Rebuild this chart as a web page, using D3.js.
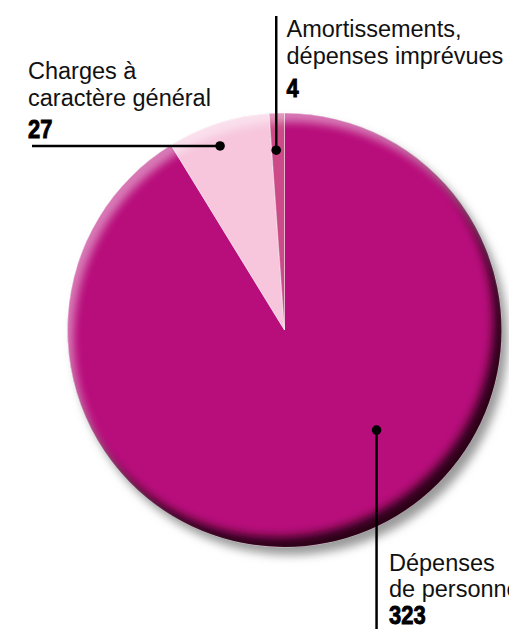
<!DOCTYPE html>
<html>
<head>
<meta charset="utf-8">
<script src="https://cdn.jsdelivr.net/npm/d3@7"></script>
<style>
  html, body { margin: 0; padding: 0; background: #fff; overflow: hidden; }
  svg { display: block; }
  .lbl { font-family: "Liberation Sans", Arial, Helvetica, sans-serif; font-size: 23.5px; fill: #111; }
  .num { font-family: "Liberation Sans", Arial, Helvetica, sans-serif; font-size: 25.5px; font-weight: bold; fill: #000; stroke: #000; stroke-width: 0.9; }
</style>
</head>
<body>
<script>
// ---- data ----
const categories = ["Dépenses de personnel", "Charges à caractère général", "Amortissements, dépenses imprévues"];
const values = [323, 27, 4];
const colors = ["#b80e7b", "#f7c6dd", "#cc4a88"];
const labelLines = [
  ["Dépenses", "de personnel"],
  ["Charges à", "caractère général"],
  ["Amortissements,", "dépenses imprévues"]
];

const W = 509, H = 629;
const cx = 284.5, cy = 330, R = 217;

const svg = d3.select("body").append("svg").attr("width", W).attr("height", H);
const defs = svg.append("defs");
defs.append("clipPath").attr("id", "pieClip")
  .append("circle").attr("cx", cx).attr("cy", cy).attr("r", R);
defs.append("filter").attr("id", "blurS").attr("x", "-20%").attr("y", "-20%").attr("width", "140%").attr("height", "140%")
  .append("feGaussianBlur").attr("stdDeviation", 5);
defs.append("filter").attr("id", "blurD").attr("x", "-20%").attr("y", "-20%").attr("width", "140%").attr("height", "140%")
  .append("feGaussianBlur").attr("stdDeviation", 5);
defs.append("filter").attr("id", "blurH").attr("x", "-20%").attr("y", "-20%").attr("width", "140%").attr("height", "140%")
  .append("feGaussianBlur").attr("stdDeviation", 4.5);

// drop shadow
svg.append("circle").attr("cx", cx + 6).attr("cy", cy + 8).attr("r", R)
  .attr("fill", "#9a9a9a").attr("filter", "url(#blurS)");

const pie = d3.pie().sort(null).value(d => d).startAngle(0).endAngle(2 * Math.PI);
const arcs = pie(values);
const arc = d3.arc().innerRadius(0).outerRadius(R);

const g = svg.append("g").attr("transform", `translate(${cx},${cy})`);
g.selectAll("path.slice").data(arcs).join("path")
  .attr("class", "slice")
  .attr("d", arc)
  .attr("fill", (d, i) => colors[i])
  .attr("stroke", "rgba(255,255,255,0.45)")
  .attr("stroke-width", 1);

// bevel: inner highlight & dark edge, clipped to pie
const bevel = svg.append("g").attr("clip-path", "url(#pieClip)");
bevel.append("circle").attr("cx", cx - 8).attr("cy", cy - 10).attr("r", R + 16)
  .attr("fill", "none").attr("stroke", "#1a0010").attr("stroke-width", 32)
  .attr("opacity", 0.9).attr("filter", "url(#blurD)");
bevel.append("circle").attr("cx", cx + 6).attr("cy", cy + 9).attr("r", R + 16)
  .attr("fill", "none").attr("stroke", "#ffffff").attr("stroke-width", 32)
  .attr("opacity", 0.45).attr("filter", "url(#blurH)");

// ---- labels ----
function polar(angleDeg, r) {
  const a = angleDeg * Math.PI / 180;
  return [cx + r * Math.sin(a), cy - r * Math.cos(a)];
}
const mid = d => (d.startAngle + d.endAngle) / 2 * 180 / Math.PI - 360;

const pC = polar(mid(arcs[1]) - 1.5, 195);
const pA = polar(mid(arcs[2]) - 0.6, 180);
const pD = polar(137.4, 136);

const ann = svg.append("g");
ann.append("line").attr("x1", 32).attr("y1", pC[1]).attr("x2", pC[0]).attr("y2", pC[1])
  .attr("stroke", "#000").attr("stroke-width", 2.5);
ann.append("line").attr("x1", pA[0]).attr("y1", 16).attr("x2", pA[0]).attr("y2", pA[1])
  .attr("stroke", "#000").attr("stroke-width", 2.5);
ann.append("line").attr("x1", pD[0]).attr("y1", pD[1]).attr("x2", pD[0]).attr("y2", H)
  .attr("stroke", "#000").attr("stroke-width", 2.5);
[pC, pA, pD].forEach(p => {
  ann.append("circle").attr("cx", p[0]).attr("cy", p[1]).attr("r", 4.8).attr("fill", "#000");
});

function block(x, ys, lines, num) {
  lines.forEach((t, i) => {
    svg.append("text").attr("class", "lbl").attr("x", x).attr("y", ys[i]).text(t);
  });
  svg.append("text").attr("class", "num")
    .attr("transform", `translate(${x},${ys[2]}) scale(0.86,1)`)
    .text(num);
}
block(28, [79, 106, 137.5], labelLines[1], values[1]);
block(286.5, [37, 63.5, 96.5], labelLines[2], values[2]);
block(389, [570.5, 596.5, 624], labelLines[0], values[0]);
</script>
</body>
</html>
